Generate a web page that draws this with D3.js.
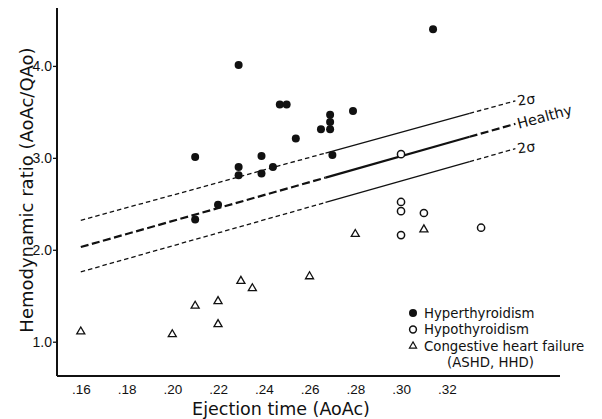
<!DOCTYPE html>
<html><head><meta charset="utf-8">
<script src="https://cdn.jsdelivr.net/npm/d3@7"></script>
<style>html,body{margin:0;padding:0;background:#fff}svg{display:block}</style>
</head><body>
<script>
// ---- data ----
const xTicks = [0.16, 0.18, 0.20, 0.22, 0.24, 0.26, 0.28, 0.30, 0.32];
const xTickLabels = [".16", ".18", ".20", ".22", ".24", ".26", ".28", ".30", ".32"];
const yTicks = [1, 2, 3, 4];
const yTickLabels = ["1.0", "2.0", "3.0", "4.0"];

const hyperX = [0.21, 0.21, 0.22, 0.229, 0.229, 0.229, 0.239, 0.239, 0.244, 0.247, 0.25, 0.254, 0.265, 0.269, 0.269, 0.269, 0.27, 0.279, 0.314];
const hyperY = [3.01, 2.33, 2.49, 4.01, 2.90, 2.81, 3.02, 2.83, 2.90, 3.58, 3.58, 3.21, 3.31, 3.47, 3.39, 3.31, 3.03, 3.51, 4.40];

const hypoX = [0.30, 0.30, 0.30, 0.31, 0.30, 0.335];
const hypoY = [3.04, 2.52, 2.42, 2.40, 2.16, 2.24];

const chfX = [0.16, 0.20, 0.21, 0.22, 0.22, 0.23, 0.235, 0.26, 0.28, 0.31];
const chfY = [1.11, 1.08, 1.39, 1.44, 1.19, 1.66, 1.58, 1.71, 2.17, 2.22];

// reference lines: value at x start / x end
const refNames = ["upper", "healthy", "lower"];
const refStartX = 0.16, refEndX = 0.35;
const refSolidFrom = 0.267, refSolidTo = 0.33;
const refStartY = [2.32, 2.03, 1.76];
const refEndY = [3.62, 3.37, 3.10];
const refLabels = ["2σ", "Healthy", "2σ"];

const legendLabels = ["Hyperthyroidism", "Hypothyroidism", "Congestive heart failure", "(ASHD, HHD)"];

// ---- chart ----
const W = 602, H = 419;
const svg = d3.select("body").append("svg").attr("width", W).attr("height", H)
  .style("font-family", "'DejaVu Sans', sans-serif");
const ink = "#111";

const x = d3.scaleLinear().domain([0.1496, 0.3695]).range([57, 560]);
const y = d3.scaleLinear().domain([0.627, 4.63]).range([376, 8]);

// axes
svg.append("line").attr("x1", x.range()[0]).attr("x2", x.range()[0]).attr("y1", y.range()[0]).attr("y2", y.range()[1])
  .attr("stroke", ink).attr("stroke-width", 2);
svg.append("line").attr("x1", x.range()[0]).attr("x2", x.range()[1]).attr("y1", y.range()[0]).attr("y2", y.range()[0])
  .attr("stroke", ink).attr("stroke-width", 2);

const xAxis = d3.axisBottom(x).tickValues(xTicks).tickSize(0).tickPadding(8.8)
  .tickFormat((d, i) => xTickLabels[i]);
const gx = svg.append("g").attr("transform", `translate(0,${y.range()[0]})`).call(xAxis);
gx.select(".domain").remove();
gx.selectAll("text").attr("font-family", "'Liberation Sans', Arial, sans-serif").attr("font-size", 13.5).attr("fill", ink);

const yAxis = d3.axisLeft(y).tickValues(yTicks).tickSize(4).tickPadding(1)
  .tickFormat((d, i) => yTickLabels[i]);
const gy = svg.append("g").attr("transform", `translate(${x.range()[0]},0)`).call(yAxis);
gy.select(".domain").remove();
gy.selectAll("line").attr("stroke", ink).attr("stroke-width", 1.3);
gy.selectAll("text").attr("font-family", "'Liberation Sans', Arial, sans-serif").attr("font-size", 14).attr("fill", ink);

// axis titles
svg.append("text").attr("x", 281).attr("y", 415).attr("text-anchor", "middle")
  .attr("font-size", 17.5).attr("fill", ink).text("Ejection time (AoAc)");
svg.append("text").attr("transform", "translate(33,190) rotate(-90)").attr("text-anchor", "middle")
  .attr("font-size", 18).attr("fill", ink).text("Hemodynamic ratio (AoAc/QAo)");

// reference lines
refNames.forEach((nm, i) => {
  const f = v => refStartY[i] + (refEndY[i] - refStartY[i]) * (v - refStartX) / (refEndX - refStartX);
  const heavy = nm === "healthy";
  const sw = heavy ? 2.2 : 1.3;
  const dash = heavy ? "8,3.5" : "4.5,3";
  const segs = [[refStartX, refSolidFrom, dash], [refSolidFrom, refSolidTo, null], [refSolidTo, refEndX, dash]];
  segs.forEach(s => {
    const l = svg.append("line")
      .attr("x1", x(s[0])).attr("y1", y(f(s[0])))
      .attr("x2", x(s[1])).attr("y2", y(f(s[1])))
      .attr("stroke", ink).attr("stroke-width", sw);
    if (s[2]) l.attr("stroke-dasharray", s[2]);
  });
  const lx = x(refEndX) + 2, ly = y(refEndY[i]);
  svg.append("text")
    .attr("transform", `translate(${lx},${ly}) rotate(${heavy ? -15 : -8})`)
    .attr("dy", "0.35em").attr("font-size", heavy ? 14.5 : 14).attr("fill", ink)
    .text(refLabels[i]);
});

// points
const hyper = hyperX.map((v, i) => [v, hyperY[i]]);
const hypo = hypoX.map((v, i) => [v, hypoY[i]]);
const chf = chfX.map((v, i) => [v, chfY[i]]);

svg.append("g").selectAll("circle").data(hyper).join("circle")
  .attr("cx", d => x(d[0])).attr("cy", d => y(d[1])).attr("r", 4).attr("fill", ink);
svg.append("g").selectAll("circle").data(hypo).join("circle")
  .attr("cx", d => x(d[0])).attr("cy", d => y(d[1])).attr("r", 3.6)
  .attr("fill", "#fff").attr("stroke", ink).attr("stroke-width", 1.5);
const tri = d3.symbol().type(d3.symbolTriangle).size(28);
svg.append("g").selectAll("path").data(chf).join("path")
  .attr("transform", d => `translate(${x(d[0])},${y(d[1])})`).attr("d", tri)
  .attr("fill", "#fff").attr("stroke", ink).attr("stroke-width", 1.3);

// legend
const lg = svg.append("g").attr("transform", "translate(413,313)");
const rowH = 16.5;
lg.append("circle").attr("cx", 0).attr("cy", 0).attr("r", 4).attr("fill", ink);
lg.append("circle").attr("cx", 0).attr("cy", rowH).attr("r", 3.4).attr("fill", "#fff").attr("stroke", ink).attr("stroke-width", 1.5);
lg.append("path").attr("transform", `translate(0,${rowH * 2})`).attr("d", d3.symbol().type(d3.symbolTriangle).size(22))
  .attr("fill", "#fff").attr("stroke", ink).attr("stroke-width", 1.2);
legendLabels.forEach((t, i) => {
  lg.append("text").attr("x", i === 3 ? 34 : 11).attr("y", rowH * i).attr("dy", "0.35em")
    .attr("font-size", 13.3).attr("fill", ink).text(t);
});
</script>
</body></html>
